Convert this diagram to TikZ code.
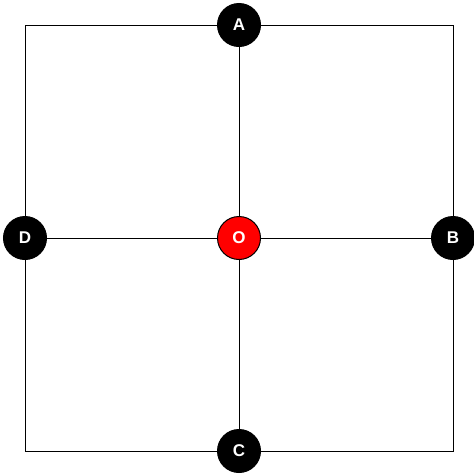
\documentclass[tikz,border=0pt]{standalone}
\usepackage{fontspec}
\setmainfont{Liberation Sans}
\begin{document}
\begin{tikzpicture}[x=1pt,y=-1pt,
  pt/.style={circle,draw=black,line width=1pt,fill=black,text=white,minimum size=43pt,inner sep=0pt,font=\fontsize{17}{20}\selectfont\bfseries},
  ctr/.style={pt,fill=red},
  edge/.style={draw=black,line width=1pt}]
\useasboundingbox (0,0) rectangle (474,474);
\coordinate (tl) at (25,25);
\coordinate (br) at (453,451);
\draw[edge] (tl) rectangle (br);
\node[pt] (A) at (239,25) {A};
\node[pt] (B) at (453,238) {B};
\node[pt] (C) at (239,451) {C};
\node[pt] (D) at (25,238) {D};
\node[ctr] (O) at (239,238) {O};
\draw[edge] (A) -- (O);
\draw[edge] (O) -- (C);
\draw[edge] (D) -- (O);
\draw[edge] (O) -- (B);
\end{tikzpicture}
\end{document}
